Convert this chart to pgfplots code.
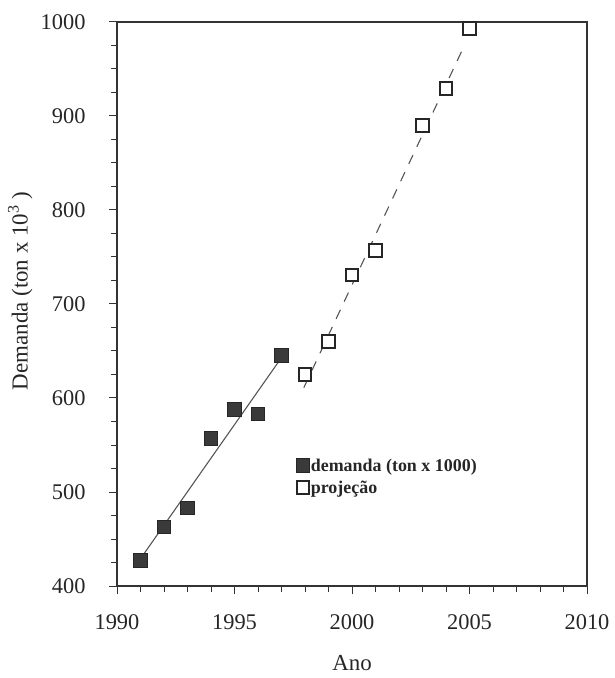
\documentclass[border=0pt]{standalone}
\usepackage{pgfplots}
\pgfplotsset{compat=1.18}
\usepackage{fontspec}
\setmainfont{Liberation Serif}
\definecolor{axgray}{HTML}{333333}
\definecolor{fillgray}{HTML}{3A3A3A}
\definecolor{linegray}{HTML}{555555}
\begin{document}
\begin{tikzpicture}
\begin{axis}[
  name=ax,
  scale only axis, width=470bp, height=564bp,
  xmin=1990, xmax=2010, ymin=400, ymax=1000,
  xtick={1990,1995,2000,2005,2010}, minor x tick num=4,
  ytick={400,500,600,700,800,900,1000}, minor y tick num=3,
  xtick pos=bottom, ytick pos=left,
  tick align=outside,
  major tick length=8bp, minor tick length=6bp,
  every tick/.style={draw=axgray, line width=1pt},
  axis line style={draw=axgray, line width=1.3pt},
  /pgf/number format/assume math mode=true,
  /pgf/number format/1000 sep={},
  ticklabel style={font=\fontsize{22.5}{26}\selectfont, text=black!85},
  xticklabel style={yshift=-17bp},
  yticklabel style={xshift=-20bp},
  xlabel={Ano},
  ylabel={Demanda (ton x 10\textsuperscript{3} )},
  label style={font=\fontsize{23}{27}\selectfont, text=black!85},
  xlabel style={at={(axis description cs:0.5,-0.1365)}, anchor=center},
  ylabel style={at={(axis description cs:-0.206,0.523)}, anchor=center},
  legend style={at={(axis description cs:0.381,0.228)}, anchor=north west,
    draw=none, fill=none, inner sep=0pt,
    font=\fontsize{18}{21}\selectfont\bfseries, text=black!85,
    row sep=6bp,
    nodes={inner sep=1bp}},
  legend cell align=left,
  legend image code/.code={\draw[#1] (0.12cm,0cm) -- plot coordinates {(0.12cm,0cm)};},
  /tikz/every even column/.append style={column sep=1bp},
  clip=false,
]
% trend lines
\addplot[forget plot, draw=linegray, line width=1.1pt] coordinates {(1991,429) (1997,643)};
\addplot[forget plot, draw=linegray, line width=1.1pt, dash pattern=on 10bp off 9bp] coordinates {(1997.95,611) (2004.8,976)};
% series
\addplot[only marks, mark=square*, mark size=6.8bp,
  mark options={fill=fillgray, draw=black!85, line width=0.8pt}]
  coordinates {(1991,427) (1992,463) (1993,483) (1994,557) (1995,588) (1996,583) (1997,645)};
\addlegendentry{demanda (ton x 1000)}
\addplot[only marks, mark=square*, mark size=6.3bp,
  mark options={fill=white, draw=black!85, line width=2pt}]
  coordinates {(1998,625) (1999,660) (2000,731) (2001,757) (2003,890) (2004,929) (2005,993)};
\addlegendentry{projeção}
\end{axis}
\path ([shift={(-117bp,-92bp)}]ax.south west) rectangle ([shift={(27bp,22bp)}]ax.north east);
\end{tikzpicture}
\end{document}
